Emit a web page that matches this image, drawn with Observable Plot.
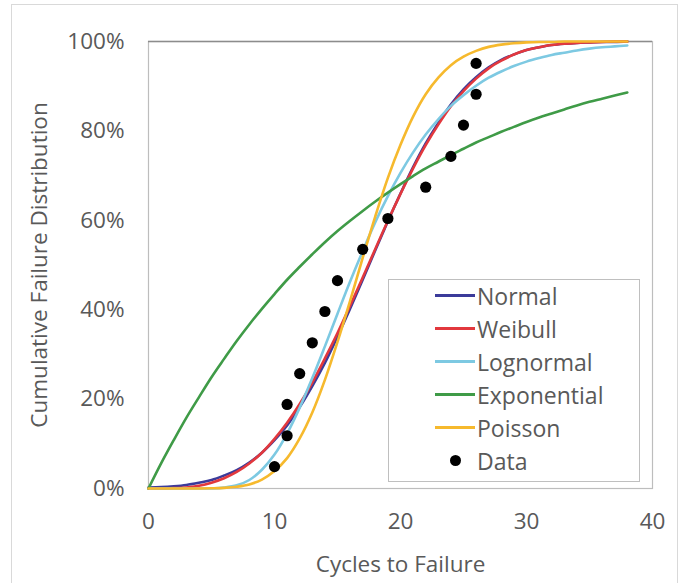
<!DOCTYPE html>
<html>
<head>
<meta charset="utf-8">
<script src="https://cdn.jsdelivr.net/npm/d3@7"></script>
<script src="https://cdn.jsdelivr.net/npm/@observablehq/plot@0.6"></script>
<style>
  body { margin: 0; background: #fff; }
  #chart { position: relative; width: 681px; height: 583px; overflow: hidden; font-family: "Open Sans", sans-serif; color: #595959; }
  #outline { position: absolute; left: 11px; top: 4px; width: 667px; height: 600px; border: 1px solid #d9d9d9; box-sizing: border-box; }
  #legend { position: absolute; left: 388px; top: 279px; width: 252px; height: 203px; border: 1px solid #bfbfbf; background: #fff; box-sizing: border-box; }
  .row { position: absolute; left: 0; height: 33px; display: flex; align-items: center; font-size: 23px; }
  .swatch { width: 40px; margin-left: 46px; margin-right: 2px; display: flex; justify-content: center; align-items: center; }
  .line { width: 40px; height: 3px; }
  .dot { width: 11px; height: 11px; border-radius: 50%; background: #000; }
</style>
</head>
<body>
<div id="chart"><div id="outline"></div></div>
<script>
// Cycle counts at which each fitted distribution is evaluated
const cycles = [0,1,2,3,4,5,6,7,8,9,10,11,12,13,14,15,16,17,18,19,20,21,22,23,24,25,26,27,28,29,30,31,32,33,34,35,36,37,38];

// Cumulative failure probability (%) of each fitted distribution
const normalCdf = [0.2,0.3,0.5,0.8,1.3,1.9,2.9,4.1,5.8,8.0,10.8,14.1,18.2,22.9,28.1,34.0,40.2,46.7,53.3,59.8,66.0,71.9,77.2,81.8,85.9,89.3,92.0,94.2,95.9,97.1,98.1,98.7,99.2,99.5,99.7,99.8,99.9,99.9,100.0];
const weibullCdf = [0,0,0.1,0.2,0.6,1.3,2.3,3.7,5.6,8.0,11.1,14.7,18.9,23.7,29.1,34.8,40.9,47.2,53.6,59.9,65.9,71.6,76.8,81.4,85.5,88.9,91.7,94.0,95.7,97.1,98.1,98.7,99.2,99.5,99.7,99.8,99.9,100.0,100.0];
const lognormalCdf = [0,0,0,0,0,0,0.2,0.7,1.9,4.2,7.6,12.3,18.1,24.7,31.8,39.1,46.3,53.1,59.6,65.4,70.6,75.2,79.2,82.6,85.6,88.0,90.1,91.9,93.3,94.5,95.5,96.3,97.0,97.5,98.0,98.4,98.7,98.9,99.1];
const exponentialCdf = [0,5.6,10.8,15.8,20.4,24.9,29.0,33.0,36.7,40.2,43.5,46.7,49.6,52.4,55.1,57.6,59.9,62.1,64.2,66.2,68.1,69.9,71.6,73.1,74.6,76.0,77.4,78.6,79.8,80.9,82.0,83.0,83.9,84.8,85.7,86.5,87.2,87.9,88.6];
const poissonCdf = [0,0,0,0,0,0.05,0.15,0.4,0.9,2.0,3.9,6.8,11.2,17.0,24.3,32.8,42.0,51.6,60.9,69.5,76.9,83.2,88.2,91.9,94.7,96.6,97.9,98.8,99.3,99.6,99.8,99.9,99.9,100,100,100,100,100,100];

// Observed failures: cycles to failure and median-rank cumulative probability (%)
const failureCycles = [10,11,11,12,13,14,15,17,19,22,24,25,26,26];
const failureRank = [4.9,11.8,18.8,25.7,32.6,39.6,46.5,53.5,60.4,67.4,74.3,81.3,88.2,95.1];

const seriesNames = ["Normal","Weibull","Lognormal","Exponential","Poisson"];
const seriesColors = ["#3b3b9a","#e2383d","#7dc9e2","#3f9b47","#f6b92d"];
const seriesValues = [normalCdf, weibullCdf, lognormalCdf, exponentialCdf, poissonCdf];

const xTicks = [0,10,20,30,40];
const yTicks = [0,20,40,60,80,100];

const curves = seriesNames.flatMap((name, i) =>
  cycles.map((c, j) => ({series: name, cycles: c, p: seriesValues[i][j]})));
const points = failureCycles.map((c, i) => ({cycles: c, p: failureRank[i]}));

const lineMarks = seriesNames.map((name, i) =>
  Plot.line(curves.filter(d => d.series === name), {
    x: "cycles", y: "p", stroke: seriesColors[i], strokeWidth: 2.6, curve: "catmull-rom"
  }));

const chart = Plot.plot({
  width: 681,
  height: 583,
  marginLeft: 148,
  marginRight: 29,
  marginTop: 41,
  marginBottom: 95,
  style: {fontFamily: "'Open Sans', sans-serif", fontSize: "22px", color: "#595959", background: "transparent", overflow: "visible"},
  x: {domain: [0, 40]},
  y: {domain: [0, 100]},
  marks: [
    Plot.frame({stroke: "#bdbdbd", strokeWidth: 1.2}),
    Plot.ruleY([100], {stroke: "#8c8c8c", strokeWidth: 1.4}),
    Plot.axisX({ticks: xTicks, tickSize: 0, tickPadding: 25, label: "Cycles to Failure", labelAnchor: "center", labelArrow: false, labelOffset: 83, fontSize: 22.5}),
    Plot.axisY({ticks: yTicks, tickSize: 0, tickPadding: 24, tickFormat: d => d + "%", label: "Cumulative Failure Distribution", labelAnchor: "center", labelArrow: false, labelOffset: 117, fontSize: 22.5}),
    ...lineMarks,
    Plot.dot(points, {x: "cycles", y: "p", r: 5.6, fill: "#000", stroke: "none"})
  ]
});
chart.style.position = "absolute";
chart.style.left = "0";
chart.style.top = "0";
document.getElementById("chart").appendChild(chart);

// Legend box drawn over the lower-right of the plot area
const legend = document.createElement("div");
legend.id = "legend";
const entries = seriesNames.map((n, i) => ({name: n, color: seriesColors[i], dot: false}))
  .concat([{name: "Data", color: "#000", dot: true}]);
entries.forEach((e, i) => {
  const row = document.createElement("div");
  row.className = "row";
  row.style.top = (i * 33 - 1) + "px";
  const sw = document.createElement("div");
  sw.className = "swatch";
  const mark = document.createElement("div");
  mark.className = e.dot ? "dot" : "line";
  if (!e.dot) mark.style.background = e.color;
  sw.appendChild(mark);
  const label = document.createElement("span");
  label.textContent = e.name;
  row.appendChild(sw);
  row.appendChild(label);
  legend.appendChild(row);
});
document.getElementById("chart").appendChild(legend);
</script>
</body>
</html>
